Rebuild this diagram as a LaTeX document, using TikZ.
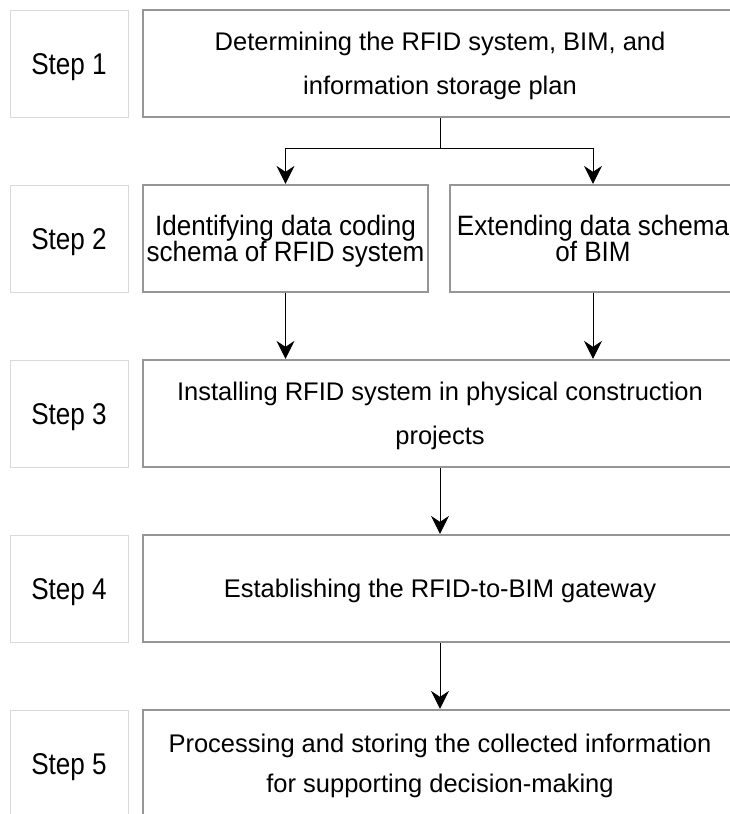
\documentclass[tikz,border=0pt]{standalone}
\usepackage{fontspec}
\setmainfont{Liberation Sans}
\newfontfamily\stepfont{Liberation Sans}[FakeStretch=0.87]
\newfontfamily\subfont{Liberation Sans}[FakeStretch=0.93]
\newcommand\tightlines{\lineskiplimit=-100pt\relax}
\usetikzlibrary{arrows.meta}
\definecolor{boxgray}{RGB}{150,150,150}
\definecolor{stepgray}{RGB}{217,217,217}
\tikzset{
  stepbox/.style={draw=stepgray, line width=1pt, minimum width=118pt, minimum height=107pt, inner sep=0pt,
    font=\stepfont\fontsize{30}{30}\selectfont, text height=21pt, text depth=0pt},
  taskbox/.style={draw=boxgray, line width=2.2pt, minimum height=107pt, inner sep=0pt, align=center,
    font=\fontsize{25.5}{44}\selectfont, text height=18pt, text depth=0pt},
  subbox/.style={taskbox, font=\subfont\fontsize{28}{26.5}\selectfont\tightlines, text height=46.5pt},
  flow/.style={-{Stealth[length=18pt,width=18pt,inset=6pt]}, line width=1pt, black},
  flowline/.style={line width=1pt, black}
}
\begin{document}
\begin{tikzpicture}[x=1pt,y=-1pt]
      \useasboundingbox (0,0) rectangle (730,814);
      \clip (0,0) rectangle (730,814);

      \node[stepbox] (s1) at (69,63.5) {Step 1};
      \node[taskbox, minimum width=594pt, text height=62pt] (t1) at (440,63.5) {Determining the RFID system, BIM, and\\information storage plan};

      \node[stepbox] (s2) at (69,238.5) {Step 2};
      \node[subbox, minimum width=285pt] (t2a) at (285.5,238.5) {Identifying data coding\\schema of RFID system};
      \node[subbox, minimum width=286pt] (t2b) at (593,238.5) {Extending data schema\\of BIM};

      \node[stepbox] (s3) at (69,413.5) {Step 3};
      \node[taskbox, minimum width=594pt, text height=62pt] (t3) at (440,413.5) {Installing RFID system in physical construction\\projects};

      \node[stepbox] (s4) at (69,588.5) {Step 4};
      \node[taskbox, minimum width=594pt] (t4) at (440,588.5) {Establishing the RFID-to-BIM gateway};

      \node[stepbox] (s5) at (69,763.5) {Step 5};
      \node[taskbox, minimum width=594pt, text height=58pt, font=\fontsize{25.5}{40}\selectfont] (t5) at (440,763.5) {Processing and storing the collected information\\for supporting decision-making};

      \coordinate (fork) at ([yshift=-30pt]t1.south);
      \draw[flowline] (t1.south) -- (fork);
      \draw[flow] (fork) -| (t2a.north);
      \draw[flow] (fork) -| (t2b.north);
      \draw[flow] (t2a.south) -- (t2a.south |- t3.north);
      \draw[flow] (t2b.south) -- (t2b.south |- t3.north);
      \draw[flow] (t3.south) -- (t4.north);
      \draw[flow] (t4.south) -- (t5.north);

\end{tikzpicture}
\end{document}
